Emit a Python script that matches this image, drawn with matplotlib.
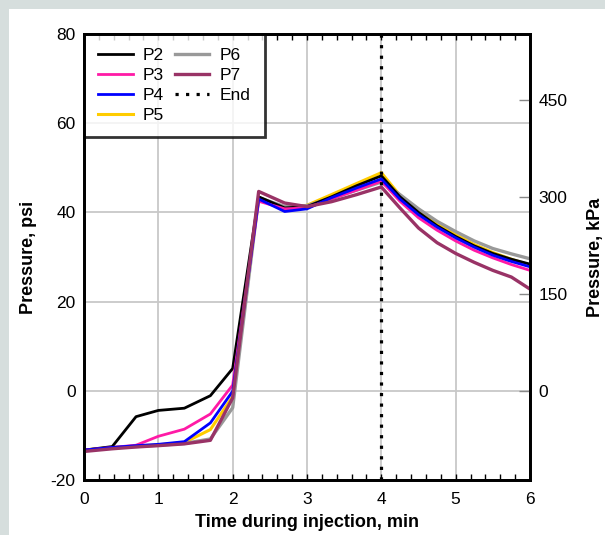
import numpy as np
import matplotlib
matplotlib.use('Agg')
import matplotlib.pyplot as plt
from matplotlib.patches import Rectangle
from matplotlib.ticker import MultipleLocator

plt.rcParams['font.family'] = ['Liberation Sans', 'DejaVu Sans']
plt.rcParams['axes.unicode_minus'] = False

# time during injection (min)
t = [0, 0.38, 0.7, 1.0, 1.35, 1.7, 2.0, 2.35, 2.7, 3.0, 3.33, 3.67, 4.0,
     4.25, 4.5, 4.75, 5.0, 5.25, 5.5, 5.75, 6.0]

# pressure (psi) for each port
p2 = [-13.3, -12.5, -5.8, -4.4, -3.9, -1.1, 5.0, 43.5, 41.0, 41.3, 43.5, 46.0, 48.2,
      43.5, 40.0, 37.0, 34.6, 32.5, 30.8, 29.5, 28.4]
p3 = [-13.3, -12.7, -12.2, -10.2, -8.6, -5.2, 1.3, 42.5, 40.8, 41.0, 43.0, 45.0, 47.0,
      42.5, 38.8, 36.0, 33.6, 31.5, 29.8, 28.3, 27.0]
p4 = [-13.3, -12.7, -12.3, -12.0, -11.4, -7.2, -0.1, 43.0, 40.2, 40.8, 43.3, 45.5, 47.5,
      43.0, 39.5, 36.7, 34.3, 32.2, 30.4, 29.0, 27.8]
p5 = [-13.3, -12.7, -12.4, -12.1, -11.6, -8.7, -1.3, 43.0, 41.0, 41.6, 44.0, 46.5, 48.9,
      43.8, 40.2, 37.4, 35.0, 32.8, 31.0, 29.5, 28.2]
p6 = [-13.3, -12.8, -12.5, -12.2, -11.8, -10.8, -3.8, 43.3, 41.3, 41.5, 43.2, 45.0, 46.8,
      44.0, 40.8, 38.0, 35.7, 33.6, 31.9, 30.7, 29.6]
p7 = [-13.6, -13.0, -12.6, -12.3, -11.9, -11.1, -1.6, 44.7, 42.1, 41.3, 42.4, 44.0, 45.7,
      41.0, 36.5, 33.2, 30.8, 28.8, 27.0, 25.5, 22.8]

t_end = 4.0
kpa_per_psi = 6.895
kpa_ticks = [0, 150, 300, 450]

fig = plt.figure(figsize=(6.05, 5.35), dpi=100, facecolor='#d6dedd')
# white panel inside the grey frame
fig.patches.append(Rectangle((9 / 605, 0), 1, 1 - 9 / 535, transform=fig.transFigure,
                             facecolor='white', edgecolor='none', zorder=-10))
ax = fig.add_axes([84 / 605, 55 / 535, 446 / 605, 446 / 535])
ax.set_facecolor('white')

ax.plot(t, p2, color='black', lw=2.0, label='P2', zorder=3)
ax.plot(t, p3, color='#ff1aa6', lw=2.0, label='P3', zorder=3)
ax.plot(t, p4, color='#0000ff', lw=2.0, label='P4', zorder=3)
ax.plot(t, p5, color='#ffcc00', lw=2.2, label='P5', zorder=2)
ax.plot(t, p6, color='#999999', lw=2.4, label='P6', zorder=2)
ax.plot(t, p7, color='#993366', lw=2.4, label='P7', zorder=4)
ax.axvline(t_end, color='black', lw=2.3, ls=(0, (1, 2.3)), label='End', zorder=5)

ax.set_xlim(0, 6)
ax.set_ylim(-20, 80)
ax.xaxis.set_major_locator(MultipleLocator(1))
ax.xaxis.set_minor_locator(MultipleLocator(0.2))
ax.yaxis.set_major_locator(MultipleLocator(20))
ax.grid(True, color='#c8c8c8', lw=1.3, zorder=0)
ax.set_axisbelow(True)
ax.tick_params(axis='x', which='both', direction='in', top=True, length=4, width=1,
               labelsize=12.5, pad=9)
ax.tick_params(axis='y', which='both', length=0, labelsize=12.5, pad=6)
for s in ax.spines.values():
    s.set_linewidth(2)

ax.set_xlabel('Time during injection, min', fontsize=13, fontweight='bold', labelpad=5)
ax.set_ylabel('Pressure, psi', fontsize=13, fontweight='bold', labelpad=10)

# right axis in kPa
ax2 = ax.twinx()
ax2.set_ylim(-20 * kpa_per_psi, 80 * kpa_per_psi)
ax2.set_yticks(kpa_ticks)
ax2.tick_params(axis='y', direction='in', length=8, width=1, color='#888888',
                labelsize=12.5, pad=6)
for s in ax2.spines.values():
    s.set_linewidth(2)
ax2.set_ylabel('Pressure, kPa', fontsize=13, fontweight='bold', labelpad=14)

leg = ax.legend(loc='upper left', ncol=2, fontsize=12.5, frameon=True, fancybox=False,
                borderaxespad=0, handlelength=2.0, handletextpad=0.6,
                columnspacing=0.6, labelspacing=0.28, borderpad=0.8)
leg.get_frame().set_edgecolor('black')
leg.get_frame().set_linewidth(2)
leg.set_zorder(10)

plt.savefig('out.png', dpi=100, facecolor=fig.get_facecolor())
